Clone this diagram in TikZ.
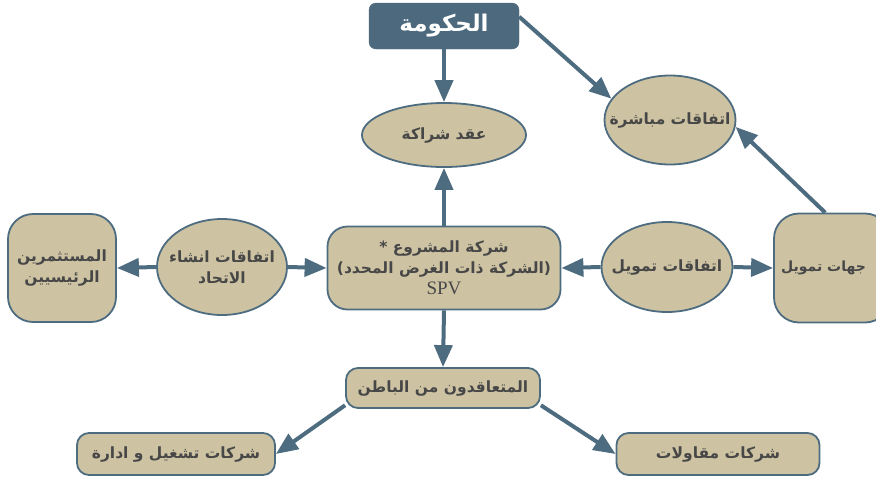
\documentclass[tikz,border=0pt]{standalone}
\usepackage{fontspec}
\setmainfont{Liberation Serif}
\newfontfamily\arabicfont[Script=Arabic]{DejaVu Sans}
\TeXXeTstate=1
\usetikzlibrary{shapes.geometric,arrows.meta}

\definecolor{edgeblue}{HTML}{4E6C80}
\definecolor{sand}{HTML}{CDC3A3}
\definecolor{ink}{HTML}{474747}
\definecolor{govblue}{HTML}{4D697D}

\newcommand\rtl[1]{\beginR#1\endR}

\tikzset{
  label text/.style={text=ink, align=center, inner sep=0pt,
    font=\arabicfont\bfseries\fontsize{15.5}{21}\selectfont},
  base/.style={draw=edgeblue, fill=sand, line width=1.8pt, label text},
  roundbox/.style={base, rectangle, rounded corners=#1},
  roundbox/.default=12pt,
  ovalnode/.style={base, ellipse},
  govbox/.style={rectangle, fill=govblue, draw=govblue, rounded corners=7pt,
    text=white, font=\arabicfont\bfseries\fontsize{23}{28}\selectfont},
  conn/.style={draw=edgeblue, line width=4pt,
    -{Triangle[length=22pt,width=18pt]}}
}

\begin{document}
\begin{tikzpicture}[x=1pt,y=-1pt]
\useasboundingbox (0,0) rectangle (876,483);
\clip (0,0) rectangle (876,483);

% top authority
\node[govbox, minimum width=150pt, minimum height=46pt] (gov) at (444,26) {\rtl{الحكومة}};

% agreement ovals (outline first, wording on top)
\node[ovalnode, minimum width=164pt, minimum height=64pt] (partner) at (444,135) {};
\node[label text] (partner-t) at (partner) {\rtl{عقد شراكة}};
\node[ovalnode, minimum width=131pt, minimum height=89pt] (direct) at (670,120) {};
\node[label text] (direct-t) at (direct) {\rtl{اتفاقات مباشرة}};
\node[ovalnode, minimum width=131pt, minimum height=90pt] (finance) at (667,267) {};
\node[label text] (finance-t) at (finance) {\rtl{اتفاقات تمويل}};
\node[ovalnode, minimum width=130pt, minimum height=96pt] (union) at (222,267) {};
\node[label text] (union-t) at (union) {\rtl{اتفاقات انشاء}\\\rtl{الاتحاد}};

% parties
\node[roundbox=20pt, minimum width=233pt, minimum height=83pt] (spv) at (444,268)
  {\rtl{شركة المشروع *}\\\rtl{(الشركة ذات الغرض المحدد)}\\{\rmfamily\mdseries\fontsize{19}{20}\selectfont SPV}};
\node[roundbox=25pt, minimum width=116pt, minimum height=109pt] (funders) at (832,268) {};
\node[label text, anchor=west, font=\arabicfont\bfseries\fontsize{14}{19}\selectfont]
  (funders-t) at (781,268) {\rtl{جهات تمويل}};
\node[roundbox=25pt, minimum width=108pt, minimum height=108pt] (investors) at (62,268) {\rtl{المستثمرين}\\\rtl{الرئيسيين}};
\node[roundbox=12pt, minimum width=194pt, minimum height=40pt] (sub) at (443,388) {\rtl{المتعاقدون من الباطن}};
\node[roundbox=12pt, minimum width=198pt, minimum height=42pt] (ops) at (176,454) {\rtl{شركات تشغيل و ادارة}};
\node[roundbox=12pt, minimum width=203pt, minimum height=42pt] (contr) at (718,454) {\rtl{شركات مقاولات}};

% connectors
\draw[conn] (gov.south) -- (partner.north);
\draw[conn] (spv.north) -- (partner.south);
\draw[conn] (gov.7) -- (direct.160);
\draw[conn] (funders.97) -- (direct.-6);
\draw[conn] (finance.west) -- (spv.east);
\draw[conn] (finance.east) -- (funders.west);
\draw[conn] (union.east) -- (spv.west);
\draw[conn] (union.west) -- (investors.east);
\draw[conn] (spv.south) -- (sub.north);
\draw[conn] (sub.190) -- (ops.east);
\draw[conn] (sub.-10) -- (contr.west);
\end{tikzpicture}
\end{document}
